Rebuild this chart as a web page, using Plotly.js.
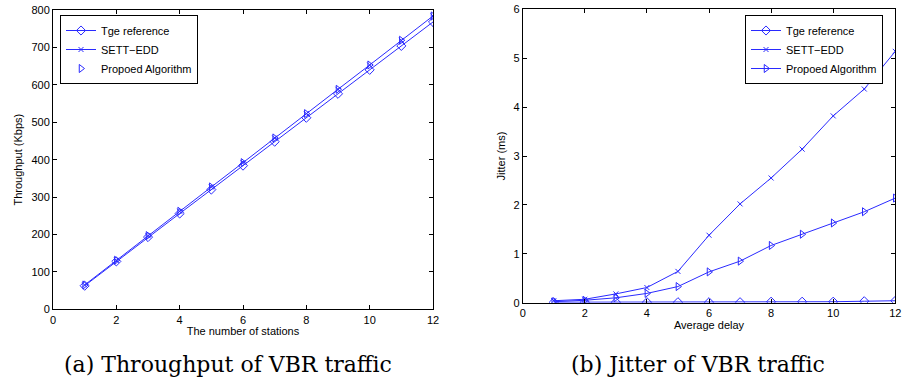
<!DOCTYPE html>
<html>
<head>
<meta charset="utf-8">
<script src="https://cdn.plot.ly/plotly-3.0.1.min.js"></script>
<style>html,body{margin:0;padding:0;background:#fff;}#chart{width:904px;height:385px;}</style>
</head>
<body>
<div id="chart"></div>
<script>
// ---- data ----
const stations = [1,2,3,4,5,6,7,8,9,10,11,12];
const seriesNames = ["Tge reference", "SETT\u2212EDD", "Propoed Algorithm"];
// (a) Throughput (Kbps)
const thrTge  = [63,128,193,256,320,384,448,512,576,640,704,768];
const thrSett = [65,131,197,262,327,392,458,523,588,653,719,784];
const thrProp = [65,131,197,262,327,392,458,523,588,653,719,784];
// (b) Jitter (ms)
const jitTge  = [0.01,0.01,0.01,0.01,0.01,0.01,0.01,0.02,0.02,0.02,0.03,0.04];
const jitSett = [0.04,0.07,0.18,0.31,0.64,1.38,2.02,2.55,3.14,3.82,4.37,5.14];
const jitProp = [0.02,0.05,0.10,0.19,0.33,0.63,0.85,1.17,1.40,1.63,1.86,2.14];
const xTicks = [0,2,4,6,8,10,12];

const blue = "#2a2aff";
const W = 904, H = 385;
const sans = "'Liberation Sans', Arial, sans-serif";
const tickFont = {family: sans, size: 11, color: "#000"};

function tr(x, y, name, symbol, size, mode, xa, ya, leg) {
  return {x: x, y: y, name: name, type: "scatter", mode: mode,
    xaxis: xa, yaxis: ya, showlegend: true, legend: leg,
    line: {color: blue, width: 1},
    marker: {symbol: symbol, size: size, color: blue, line: {color: blue, width: 1}}};
}

const data = [
  tr(stations, thrTge, seriesNames[0], "diamond-open", 7, "lines+markers", "x", "y", "legend"),
  tr(stations, thrSett, seriesNames[1], "x-thin-open", 5, "lines+markers", "x", "y", "legend"),
  tr(stations, thrProp, seriesNames[2], "triangle-right-open", 7, "markers", "x", "y", "legend"),
  tr(stations, jitTge, seriesNames[0], "diamond-open", 7, "lines+markers", "x2", "y2", "legend2"),
  tr(stations, jitSett, seriesNames[1], "x-thin-open", 5, "lines+markers", "x2", "y2", "legend2"),
  tr(stations, jitProp, seriesNames[2], "triangle-right-open", 7, "lines+markers", "x2", "y2", "legend2")
];

function axisCommon(extra) {
  return Object.assign({
    showline: true, linecolor: "#000", linewidth: 1, mirror: "ticks",
    ticks: "inside", ticklen: 4, tickcolor: "#000", tickwidth: 1,
    showgrid: false, zeroline: false, tickfont: tickFont, automargin: false
  }, extra);
}

const legendCommon = {
  bgcolor: "#fff", bordercolor: "#000", borderwidth: 1,
  font: {family: sans, size: 11, color: "#000"},
  xanchor: "left", yanchor: "top", tracegroupgap: 0, itemwidth: 30
};

const titleFont = {family: sans, size: 11, color: "#000"};

const layout = {
  width: W, height: H,
  margin: {l: 0, r: 0, t: 0, b: 0},
  paper_bgcolor: "#fff", plot_bgcolor: "#fff",
  xaxis: axisCommon({domain: [53/W, 433/W], range: [0, 12], tickvals: xTicks, anchor: "y",
    title: {text: "The number of stations", font: titleFont, standoff: 2}}),
  yaxis: axisCommon({domain: [(H-309.3)/H, (H-10)/H], range: [0, 800], dtick: 100, anchor: "x",
    title: {text: "Throughput (Kbps)", font: titleFont, standoff: 6}}),
  xaxis2: axisCommon({domain: [522.7/W, 895.3/W], range: [0, 12], tickvals: xTicks, anchor: "y2",
    title: {text: "Average delay", font: titleFont, standoff: 0}}),
  yaxis2: axisCommon({domain: [(H-302.7)/H, (H-9.3)/H], range: [0, 6], dtick: 1, anchor: "x2",
    title: {text: "Jitter (ms)", font: titleFont, standoff: 5}}),
  legend: Object.assign({x: 60/W, y: (H-15)/H}, legendCommon),
  legend2: Object.assign({x: 745/W, y: (H-15)/H}, legendCommon),
  annotations: [
    {text: "(a) Throughput of VBR traffic", xref: "paper", yref: "paper", x: 228/W, y: (H-364)/H,
     showarrow: false, xanchor: "center", yanchor: "middle",
     font: {family: "'DejaVu Serif', 'Liberation Serif', serif", size: 22, color: "#000"}},
    {text: "(b) Jitter of VBR traffic", xref: "paper", yref: "paper", x: 698/W, y: (H-364)/H,
     showarrow: false, xanchor: "center", yanchor: "middle",
     font: {family: "'DejaVu Serif', 'Liberation Serif', serif", size: 22, color: "#000"}}
  ]
};

Plotly.newPlot("chart", data, layout, {displayModeBar: false, staticPlot: true});
</script>
</body>
</html>
